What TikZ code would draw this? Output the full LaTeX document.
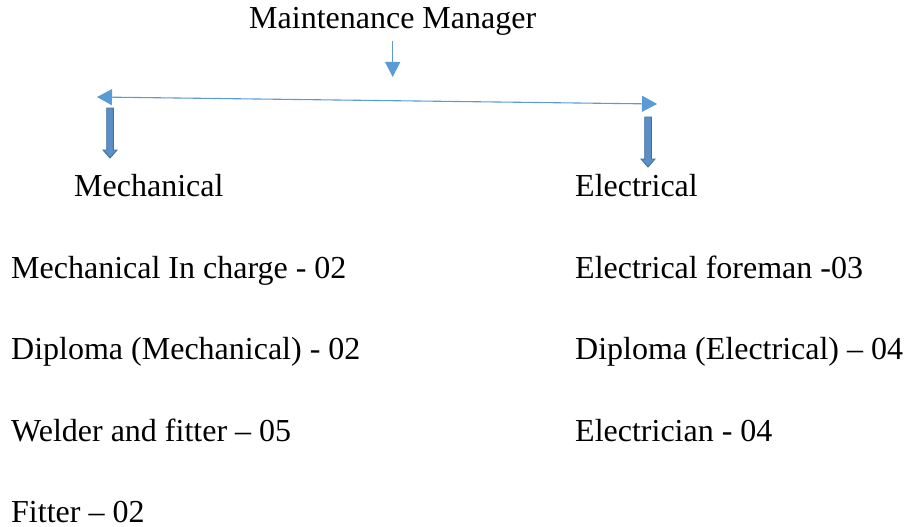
\documentclass[tikz,border=0pt]{standalone}
\usepackage{fontspec}
\setmainfont{Liberation Serif}
\usetikzlibrary{arrows.meta,positioning}
\definecolor{lineblue}{HTML}{5B9BD5}
\definecolor{barblue}{HTML}{5B8FC8}
\definecolor{bardark}{HTML}{41719C}

\begin{document}
\begin{tikzpicture}[
  x=1pt,y=-1pt,>=Latex,
  font=\fontsize{32}{38}\selectfont,
  lbl/.style={inner sep=0pt,anchor=base west},
  item/.style={lbl,below=81.5pt of #1,anchor=base west},
  link/.style={lineblue,line width=1.1pt},
  bararrow/.pic={\draw[bardark,fill=barblue,line width=0.9pt,line join=miter]
    (-3.3,0) -- (3.3,0) -- (3.3,42) -- (7,42) -- (0,50) -- (-7,42) -- (-3.3,42) -- cycle;}]
  \useasboundingbox (0,0) rectangle (907,527);
  % top of the chart
  \node[lbl] (mgr) at (249,29) {Maintenance Manager};
  \coordinate (split) at (mgr.south |- 0,77);
  \coordinate (lend) at (97,97);
  \coordinate (rend) at (657,104);
  \draw[link,-{Triangle[length=15pt,width=15pt]}] ([yshift=-5pt]mgr.south) -- (split);
  \draw[link,{Triangle[length=15pt,width=16pt]}-{Triangle[length=15pt,width=16pt]}] (lend) -- (rend);
  \pic (mdown) at (110,108) {bararrow};
  \pic (edown) at (648,117) {bararrow};
  % the two sections
  \node[lbl] (mech) at (74,196) {Mechanical};
  \node[lbl] (elec) at (575,196) {Electrical};
  \node[lbl] (m1) at (11,278) {Mechanical In charge - 02};
  \node[item=m1.base west] (m2) {Diploma (Mechanical) - 02};
  \node[item=m2.base west] (m3) {Welder and fitter -- 05};
  \node[item=m3.base west] (m4) {Fitter -- 02};
  \node[lbl] (e1) at (575,278) {Electrical foreman -03};
  \node[item=e1.base west] (e2) {Diploma (Electrical) -- 04};
  \node[item=e2.base west] (e3) {Electrician - 04};
\end{tikzpicture}
\end{document}
